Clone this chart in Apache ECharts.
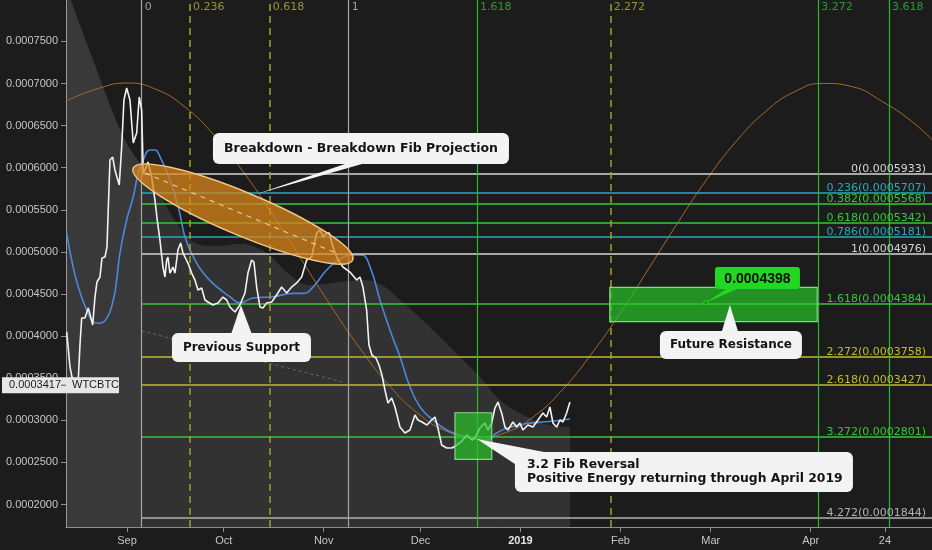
<!DOCTYPE html>
<html><head><meta charset="utf-8">
<script src="https://cdn.jsdelivr.net/npm/echarts@6/dist/echarts.min.js"></script>
<style>html,body{margin:0;padding:0;background:#1c1c1c;}#c{width:932px;height:550px;}</style>
</head><body><div id="c"></div>
<script>
// x values are days after 2018-09-01 (UTC)
const priceDays = [-18.69,-17.67,-17.05,-16.12,-15.19,-14.57,-14.04,-13.02,-12.0,-11.25,
-10.63,-9.92,-9.30,-8.37,-7.75,-6.82,-6.20,-5.27,-4.43,-3.72,
-2.39,-1.64,-0.93,-0.09,0.93,1.95,3.01,3.81,4.56,5.05,
5.58,6.51,7.66,8.68,9.39,10.23,11.16,11.78,12.31,12.71,
13.33,14.26,14.88,15.81,16.65,17.36,18.91,20.06,21.08,22.01,
23.16,24.18,25.11,26.66,28.21,29.76,30.91,31.93,33.48,35.03,
36.58,37.51,38.66,39.37,40.21,41.23,42.16,43.31,44.86,46.41,
47.96,49.51,51.06,52.61,54.16,55.71,57.26,58.81,59.84,60.86,
61.91,62.72,63.87,65.42,66.97,69.14,71.21,72.24,73.17,74.31,
75.03,75.96,77.20,78.13,79.06,79.99,80.92,82.07,83.09,84.64,
86.19,87.74,89.29,90.22,91.46,93.01,94.47,95.49,96.42,97.57,
99.12,100.76,102.31,103.86,105.41,106.96,107.89,109.44,110.99,111.92,
113.07,114.09,115.02,116.17,117.19,118.12,119.67,120.82,121.84,122.77,
124.32,125.87,127.42,128.97,130.12,131.14,132.07,133.22,134.24,135.17,
136.32,137.34];
const priceValues = [0.0004052,0.0003637,0.0003514,0.0003419,0.0003407,0.0003894,0.0004215,0.0004215,0.0004334,0.0004227,
0.0004132,0.0004464,0.0004643,0.0004702,0.0004928,0.0004939,0.0005058,0.0006092,0.0006127,0.0005973,
0.0005795,0.0006246,0.0006804,0.0006947,0.0006804,0.0006293,0.0006412,0.0006840,0.0006685,0.0005937,
0.0005973,0.0006068,0.0005890,0.0005616,0.0005379,0.0005141,0.0004821,0.0004702,0.0004904,0.0004939,
0.0004749,0.0004821,0.0004749,0.0005023,0.0005106,0.0004987,0.0004868,0.0004749,0.0004666,0.0004548,
0.0004571,0.0004429,0.0004405,0.0004369,0.0004393,0.0004464,0.0004429,0.0004346,0.0004286,0.0004369,
0.0004512,0.0004749,0.0004904,0.0004880,0.0004583,0.0004346,0.0004334,0.0004393,0.0004405,0.0004488,
0.0004583,0.0004512,0.0004583,0.0004631,0.0004702,0.0004904,0.0004939,0.0005224,0.0005260,0.0005177,
0.0005224,0.0005224,0.0005058,0.0004904,0.0004821,0.0004761,0.0004666,0.0004702,0.0004583,0.0004310,
0.0003894,0.0003775,0.0003740,0.0003657,0.0003538,0.0003360,0.0003205,0.0003265,0.0003158,0.0002920,
0.0002849,0.0002885,0.0003063,0.0003004,0.0002980,0.0002944,0.0003004,0.0003039,0.0002909,0.0002707,
0.0002671,0.0002671,0.0002707,0.0002754,0.0002825,0.0002766,0.0002790,0.0002909,0.0002968,0.0002885,
0.0002968,0.0003146,0.0003217,0.0003087,0.0002920,0.0002885,0.0002980,0.0002920,0.0002968,0.0002885,
0.0002944,0.0002920,0.0003004,0.0003087,0.0003039,0.0003158,0.0002968,0.0002920,0.0003004,0.0002980,
0.0003087,0.0003217];
const maDays = [-18.69,-17.14,-15.10,-12.49,-10.45,-8.90,-6.29,-4.25,-3.19,-2.17,
-0.09,1.95,3.50,5.05,7.13,8.68,10.23,13.33,15.90,17.98,
20.56,23.66,27.81,31.93,35.03,39.16,45.36,51.56,54.66,57.76,
61.91,66.04,70.07,72.76,75.34,78.44,81.54,84.64,87.74,90.84,
94.87,99.12,103.24,107.27,111.52,114.62,117.72,123.92,130.12,137.34];
const maValues = [0.0005221,0.0004904,0.0004583,0.0004310,0.0004171,0.0004152,0.0004211,0.0004429,0.0004666,0.0004987,
0.0005379,0.0005656,0.0005937,0.0006092,0.0006210,0.0006210,0.0006131,0.0005854,0.0005537,0.0005181,
0.0004943,0.0004749,0.0004587,0.0004468,0.0004397,0.0004452,0.0004468,0.0004508,0.0004508,0.0004587,
0.0004785,0.0004916,0.0004963,0.0004963,0.0004824,0.0004429,0.0004073,0.0003755,0.0003399,0.0003162,
0.0003004,0.0002885,0.0002825,0.0002786,0.0002766,0.0002849,0.0002905,0.0002962,0.0002983,0.0003015];
const cycleDays = [-19,-9,0,9,18,27,36,45,54,63,72,81,90,99,108,117,126,135,144,153,162,171,180,189,198,207,216,225,234,243,250];
const cycleValues = [0.0006790,0.0006940,0.0007006,0.0006931,0.0006720,0.0006387,0.0005955,0.0005453,0.0004913,0.0004372,
0.0003868,0.0003429,0.0003089,0.0002872,0.0002791,0.0002849,0.0003042,0.0003363,0.0003789,0.0004278,
0.0004816,0.0005360,0.0005873,0.0006318,0.0006667,0.0006903,0.0007001,0.0006962,0.0006790,0.0006560,0.0006320];
const shadeDays = [-18.9,-14.57,-9.92,-5.27,-0.62,4.34,10.23,15.81,21.08,27.28,
35.03,42.78,50.53,56.74,66.04,73.79,79.99,84.64,93.94,103.24,
109.44,115.64,121.84,129.59,137.34];
const shadeValues = [0.000815,0.0007695,0.0007220,0.0006745,0.0006329,0.0006032,0.0005676,0.0005320,0.0005106,0.0005070,
0.0005094,0.0004999,0.0004726,0.0004607,0.0004643,0.0004666,0.0004583,0.0004429,0.0004108,0.0003752,
0.0003514,0.0003241,0.0003087,0.0002956,0.0002920];
const trendDays = [4.56, 66.97];
const trendValues = [0.0004061, 0.0003455];
const timeFibLabels = ['0','0.236','0.618','1','1.618','2.272','3.272','3.618'];
const timeFibDays = [4.56,19.53,44.24,68.73,108.51,149.96,214.32,236.25];
const priceFibLabels = ['0','0.236','0.382','0.618','0.786','1','1.618','2.272','2.618','3.272','4.272'];
const priceFibValues = [0.0005933,0.0005707,0.0005568,0.0005342,0.0005181,0.0004976,0.0004384,0.0003758,0.0003427,0.0002801,0.0001844];
const xTickDays = [0,30,61,91,122,153,181,212,235];
const xTickLabels = ['Sep','Oct','Nov','Dec','2019','Feb','Mar','Apr','24'];
const resistanceDays = [149.7, 214.0];
const resistanceValues = [0.000458, 0.0004171];
const reversalDays = [101.7, 113.1];
const reversalValues = [0.000309, 0.0002537];
const lastPrice = 0.0003417;
const resistancePrice = 0.0004398;

// ---- styles ----
const timeFibColors = ['#a4a4a4','#a3a322','#a3a322','#a4a4a4','#2db82d','#a3a322','#2db82d','#2db82d'];
const timeFibTypes = ['solid','dashed','dashed','solid','solid','dashed','solid','solid'];
const timeFibTextColors = ['#bcbcbc','#b4b438','#b4b438','#bcbcbc','#37b937','#b4b438','#37b937','#37b937'];
const priceFibColors = ['#d4d4d4','#2aa9bb','#38c638','#38c638','#2aa9bb','#d4d4d4','#38c638','#bcbc2c','#bcbc2c','#38c638','#b0b0b0'];

const DAY = 864e5, BASE = Date.UTC(2018, 8, 1);
const T = d => BASE + d * DAY;
const X_MIN = T(-18.9), X_MAX = T(249.6);
const Y_MIN = 0.0001733, Y_MAX = 0.0007992;
const pairs = (ds, vs) => ds.map((d, i) => [T(d), vs[i]]);
const xTickTimes = xTickDays.map(T);
const FONT = 'Liberation Sans';
const DV = 'DejaVu Sans';

const chart = echarts.init(document.getElementById('c'));

const hLines = priceFibValues.map((v, i) => [
  {coord: [T(timeFibDays[0]), v], lineStyle: {color: priceFibColors[i], width: 1.5, type: 'solid'},
   label: {show: true, position: 'insideEndTop', distance: [6, -1], formatter: priceFibLabels[i] + '(' + v.toFixed(7) + ')',
           color: priceFibColors[i], fontFamily: DV, fontSize: 11}},
  {coord: [X_MAX, v]}
]);
const vLines = timeFibDays.map((d, i) => ({
  xAxis: T(d), lineStyle: {color: timeFibColors[i], width: timeFibTypes[i] === 'dashed' ? 1.5 : 1.2, type: timeFibTypes[i] === 'dashed' ? [7, 5] : 'solid'},
  label: {show: false}
}));

const option = {
  backgroundColor: '#1c1c1c',
  animation: false,
  grid: {left: 66, right: 0, top: 0, bottom: 23},
  xAxis: {
    type: 'value', min: X_MIN, max: X_MAX,
    axisLine: {lineStyle: {color: '#8e8e8e', width: 1}},
    axisTick: {show: true, length: 5, lineStyle: {color: '#8e8e8e'}, customValues: xTickTimes},
    splitLine: {show: false},
    axisLabel: {
      customValues: xTickTimes, margin: 8, color: '#c6c6c6', fontSize: 11, fontFamily: FONT,
      formatter: function (val) {
        let idx = 0, best = Infinity;
        xTickTimes.forEach((tt, i) => { const dd = Math.abs(tt - val); if (dd < best) { best = dd; idx = i; } });
        const s = xTickLabels[idx];
        return s === '2019' ? '{b|' + s + '}' : s;
      },
      rich: {b: {fontWeight: 'bold', color: '#e6e6e6', fontSize: 11, fontFamily: FONT}}
    }
  },
  yAxis: {
    type: 'value', min: Y_MIN, max: Y_MAX, splitNumber: 12,
    axisLine: {show: true, lineStyle: {color: '#8e8e8e'}},
    axisTick: {show: true, length: 5, lineStyle: {color: '#8e8e8e'}},
    splitLine: {show: false},
    axisLabel: {color: '#c6c6c6', fontSize: 11, fontFamily: FONT, margin: 8, showMinLabel: false, showMaxLabel: false,
      formatter: v => v.toFixed(7)}
  },
  series: [
    {type: 'line', name: 'shadeLeft', z: 1, silent: true, smooth: 0.3, symbol: 'none',
     data: pairs(shadeDays.slice(0, 6), shadeValues.slice(0, 6)),
     lineStyle: {width: 0, opacity: 0}, areaStyle: {color: 'rgba(255,255,255,0.05)', origin: 'start'}},
    {type: 'line', name: 'shade', z: 1, silent: true, smooth: 0.4, symbol: 'none',
     data: pairs(shadeDays, shadeValues),
     lineStyle: {width: 0, opacity: 0}, areaStyle: {color: 'rgba(255,255,255,0.14)', origin: 'start'}},
    {type: 'line', name: 'fib', z: 2, silent: true, data: [],
     markLine: {silent: true, symbol: ['none', 'none'], animation: false, data: hLines.concat(vLines)}},
    {type: 'line', name: 'trend', z: 3, silent: true, symbol: 'none', data: pairs(trendDays, trendValues),
     lineStyle: {color: 'rgba(150,150,150,0.55)', width: 1, type: [3, 3]}},
    {type: 'line', name: 'cycle', z: 3, silent: true, symbol: 'none', smooth: 0.5, data: pairs(cycleDays, cycleValues),
     lineStyle: {color: '#a86a2c', width: 1}},
    {type: 'line', name: 'MA', z: 4, silent: true, symbol: 'none', smooth: true, data: pairs(maDays, maValues),
     lineStyle: {color: '#4e87da', width: 1.6}},
    {type: 'line', name: 'WTCBTC', z: 5, silent: true, symbol: 'none', data: pairs(priceDays, priceValues),
     lineStyle: {color: '#f2f2f2', width: 1.6}},
    {type: 'line', name: 'zones', z: 7, silent: true, data: [],
     markArea: {silent: true, z: 7, itemStyle: {color: 'rgba(40,200,40,0.68)', borderColor: '#86d886', borderWidth: 1.2},
       data: [
         [{coord: [T(resistanceDays[0]), resistanceValues[0]]}, {coord: [T(resistanceDays[1]), resistanceValues[1]]}],
         [{coord: [T(reversalDays[0]), reversalValues[0]]}, {coord: [T(reversalDays[1]), reversalValues[1]]}]
       ]}},
    {type: 'scatter', name: 'timeFibLabels', z: 8, silent: true, symbolSize: 0,
     data: timeFibDays.map((d, i) => ({value: [T(d), Y_MAX],
       label: {show: true, position: 'right', distance: 3, offset: [0, 7.5], formatter: timeFibLabels[i],
               color: timeFibTextColors[i], fontFamily: DV, fontSize: 11}}))}
  ]
};
chart.setOption(option);

// ---- annotations positioned from data coordinates ----
const P = (d, v) => chart.convertToPixel({gridIndex: 0}, [T(d), v]);
const g = [];
function callout(center, w, h, tip, b1, b2, lines, lh, fs) {
  const c = P(center[0], center[1]);
  const tp = P(tip[0], tip[1]);
  const font = 'bold ' + fs + 'px "DejaVu Sans"';
  g.push({type: 'polygon', z: 60, silent: true,
    shape: {points: [[c[0] + b1[0], c[1] + b1[1]], [c[0] + b2[0], c[1] + b2[1]], tp]},
    style: {fill: '#f3f3f3'}});
  g.push({type: 'rect', z: 61, silent: true, shape: {x: c[0] - w / 2, y: c[1] - h / 2, width: w, height: h, r: 6},
    style: {fill: '#f3f3f3'}});
  if (lines.length === 1) {
    g.push({type: 'text', z: 62, silent: true, style: {text: lines[0], x: c[0], y: c[1], fill: '#131313',
      font: font, align: 'center', verticalAlign: 'middle', textAlign: 'center', textVerticalAlign: 'middle'}});
  } else {
    lines.forEach((s, i) => {
      g.push({type: 'text', z: 62, silent: true, style: {text: s, x: c[0] - w / 2 + 12, y: c[1] + (i - (lines.length - 1) / 2) * lh,
        fill: '#131313', font: font, align: 'left', verticalAlign: 'middle', textAlign: 'left', textVerticalAlign: 'middle'}});
    });
  }
}
// ellipse (breakdown projection)
const ec = P(35.96, 0.000545);
g.push({type: 'group', x: ec[0], y: ec[1], rotation: -0.396, z: 55, silent: true, children: [
  {type: 'ellipse', z: 55, shape: {cx: 0, cy: 0, rx: 119, ry: 21.5},
   style: {fill: 'rgba(218,134,26,0.74)', stroke: '#f3c685', lineWidth: 1.5}},
  {type: 'line', z: 56, shape: {x1: -106, y1: 0, x2: 104, y2: 0},
   style: {stroke: 'rgba(250,215,160,0.85)', lineWidth: 1.2, lineDash: [5, 5]}}
]});
callout([72.55, 0.0006228], 296, 31, [40.30, 0.0005688], [-16, 15.5], [1, 15.5], ['Breakdown - Breakdown Fib Projection'], 0, 12.5);
callout([35.50, 0.0003865], 139, 29, [35.34, 0.0004369], [-10, -14.5], [10, -14.5], ['Previous Support'], 0, 12);
callout([187.26, 0.0003894], 142, 28, [186.95, 0.0004369], [-9, -14], [7, -14], ['Future Resistance'], 0, 12);
callout([172.69, 0.0002386], 338, 40, [108.51, 0.0002778], [-169, -8], [-140, -20],
  ['3.2 Fib Reversal', 'Positive Energy returning through April 2019'], 14, 12.4);

// green price label
const lc = P(195.48, 0.000469);
const lt = P(179.51, resistancePrice);
g.push({type: 'polygon', z: 60, silent: true, shape: {points: [[lc[0] - 30, lc[1] + 10], [lc[0] - 18, lc[1] + 10], lt]},
  style: {fill: '#22d622'}});
g.push({type: 'circle', z: 61, silent: true, shape: {cx: lt[0], cy: lt[1], r: 2.2}, style: {fill: '#1c8f1c', stroke: '#22d622', lineWidth: 1}});
g.push({type: 'rect', z: 61, silent: true, shape: {x: lc[0] - 42.5, y: lc[1] - 11, width: 85, height: 22, r: 3},
  style: {fill: '#22d622'}});
g.push({type: 'text', z: 62, silent: true, style: {text: resistancePrice.toFixed(7), x: lc[0], y: lc[1] + 1, fill: '#0c0c0c',
  font: 'bold 14px "Liberation Sans"', align: 'center', verticalAlign: 'middle', textAlign: 'center', textVerticalAlign: 'middle'}});

// last price tag on the axis
const lp = P(-18.9, lastPrice);
g.push({type: 'rect', z: 70, silent: true, shape: {x: 2, y: lp[1] - 8, width: 117, height: 16}, style: {fill: '#e6e6e6'}});
g.push({type: 'line', z: 71, silent: true, shape: {x1: 61, y1: lp[1], x2: 66, y2: lp[1]}, style: {stroke: '#555', lineWidth: 1}});
g.push({type: 'text', z: 71, silent: true, style: {text: lastPrice.toFixed(7), x: 9, y: lp[1], fill: '#1a1a1a',
  font: '11px "Liberation Sans"', align: 'left', verticalAlign: 'middle', textAlign: 'left', textVerticalAlign: 'middle'}});
g.push({type: 'text', z: 71, silent: true, style: {text: 'WTCBTC', x: 72, y: lp[1], fill: '#1a1a1a',
  font: '11px "Liberation Sans"', align: 'left', verticalAlign: 'middle', textAlign: 'left', textVerticalAlign: 'middle'}});

chart.setOption({graphic: {elements: g}});
</script></body></html>
